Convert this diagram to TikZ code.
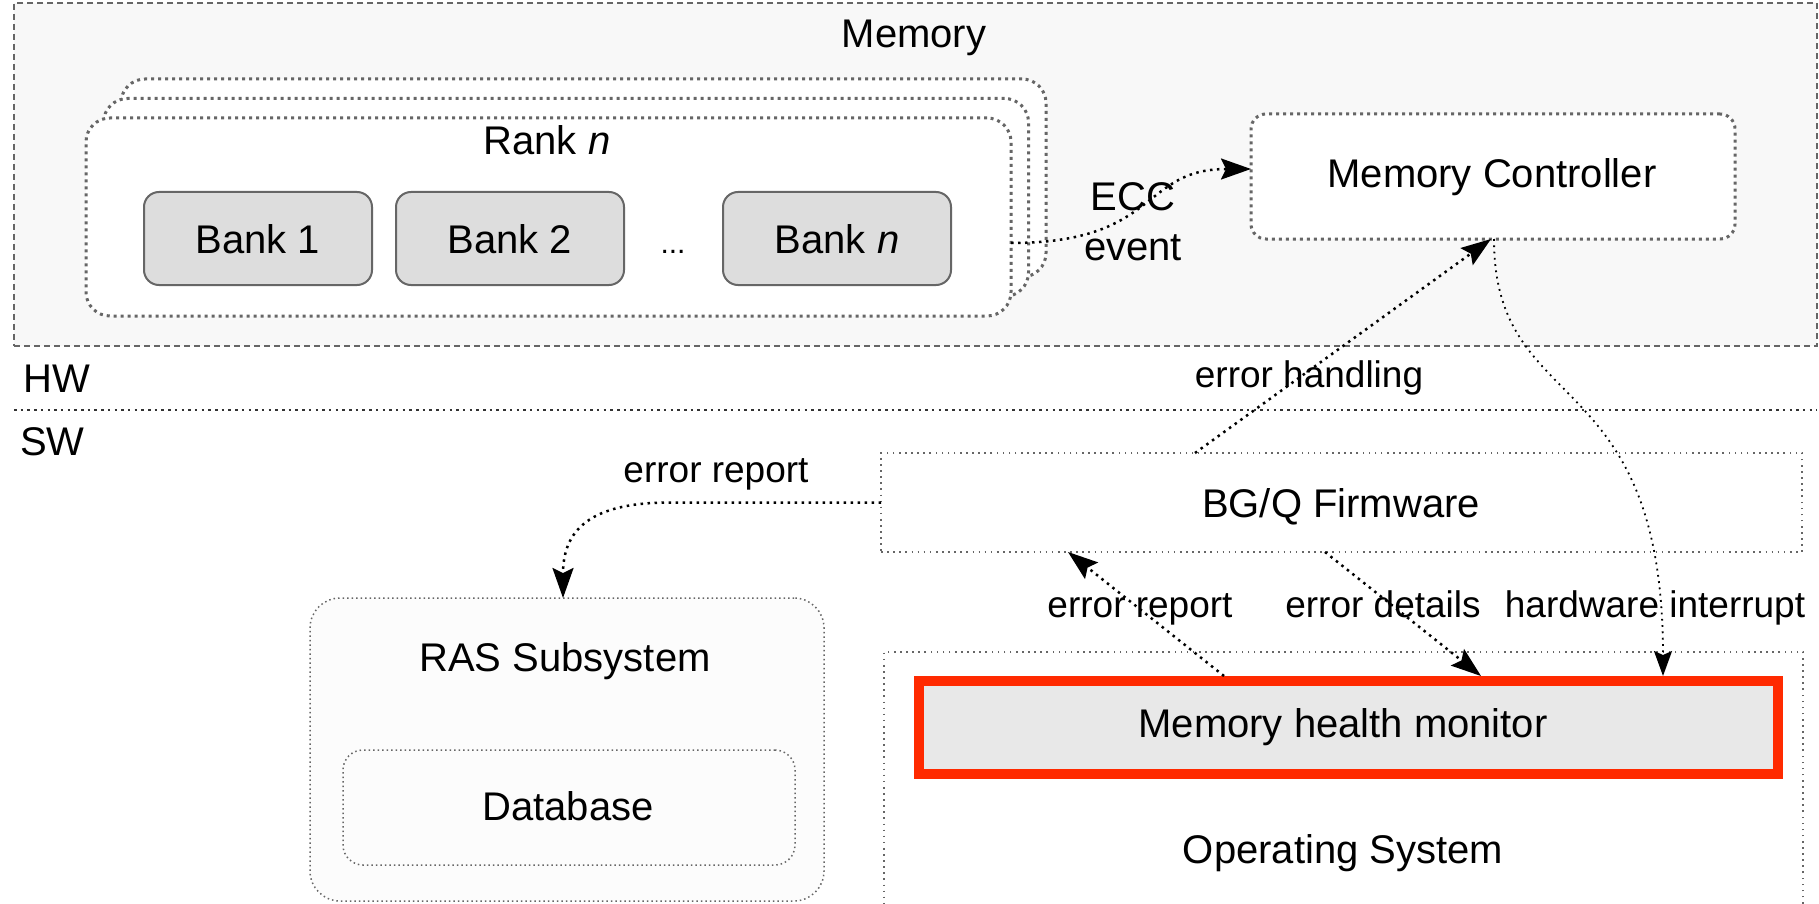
\documentclass[tikz,border=0pt]{standalone}
\usepackage{fontspec}
\setmainfont{Liberation Sans}
\usetikzlibrary{arrows.meta,shadows}
\definecolor{memfill}{HTML}{F8F8F8}
\definecolor{bdr}{HTML}{666666}
\definecolor{bankfill}{HTML}{DDDDDD}
\definecolor{mhmred}{HTML}{FF2A00}
\definecolor{mhmfill}{HTML}{E8E8E8}
\definecolor{rasfill}{HTML}{FCFCFC}
\definecolor{sepcol}{HTML}{333333}
\begin{document}
\begin{tikzpicture}[x=1pt,y=-1pt,
  box/.style={rectangle, inner sep=0pt, outer sep=0pt},
  membox/.style={box, draw=bdr, line width=2pt, dash pattern=on 6pt off 4pt, fill=memfill},
  rankbox/.style={box, draw=bdr, line width=3pt, dash pattern=on 3pt off 4pt, fill=white, rounded corners=24pt, minimum width=925pt, minimum height=198pt},
  bankbox/.style={box, draw=bdr, line width=2pt, fill=bankfill, rounded corners=15pt, minimum width=228pt, minimum height=93pt},
  mcbox/.style={box, draw=bdr, line width=3pt, dash pattern=on 3pt off 4pt, fill=white, rounded corners=15pt},
  thinbox/.style={box, draw=bdr, line width=1.6pt, dash pattern=on 1.6pt off 4.5pt, fill=white},
  rasbox/.style={box, draw=bdr, line width=1.5pt, dash pattern=on 1.5pt off 3pt, fill=rasfill},
  big/.style={inner sep=0pt, anchor=base, font=\fontsize{40}{48}\selectfont},
  lab/.style={inner sep=0pt, anchor=base, font=\fontsize{37}{44}\selectfont},
  arr/.style={draw=black, line width=2.5pt, dash pattern=on 2.5pt off 4.5pt, -{Stealth[length=30pt,width=21pt,inset=5pt]}},
  thinarr/.style={draw=black, line width=1.8pt, dash pattern=on 1.8pt off 4.5pt, -{Stealth[length=25pt,width=18pt,inset=4pt]}},
  sepline/.style={draw=sepcol, line width=2.5pt, dash pattern=on 2.5pt off 4.2pt},
]
\useasboundingbox (0,0) rectangle (1819,904);

% Memory (HW) area
\node[membox, minimum width=1803pt, minimum height=343pt] (memory) at (915.5,174.5) {};
\node[big] (memorytitle) at (914,48) {Memory};

% Rank stack
\node[rankbox] (rank3) at (583.5,178) {};
\node[rankbox] (rank2) at (566,197.5) {};
\node[rankbox] (rank1) at (548.5,217) {};
\node[big] (ranktitle) at (547,155) {Rank \textit{n}};

% Banks
\node[bankbox] (bank1) at (258,238.5) {};
\node[bankbox] (bank2) at (510,238.5) {};
\node[bankbox] (bankn) at (837,238.5) {};
\node[big] (bank1t) at (258,253) {Bank 1};
\node[big] (bank2t) at (510,253) {Bank 2};
\node[big] (bankntt) at (837,253) {Bank \textit{n}};
\node[inner sep=0pt, anchor=base, font=\fontsize{30}{36}\selectfont] (bankdots) at (673,253) {...};

% Memory controller
\node[mcbox, minimum width=484pt, minimum height=125pt] (mc) at (1493,176.5) {};
\node[big] (mct) at (1492,187) {Memory Controller};

% HW / SW separator
\coordinate (sepL) at (14,410);
\coordinate (sepR) at (1817,410);
\draw[sepline] (sepL) -- (sepR);
\node[big, anchor=base west] (hw) at (23,392) {HW};
\node[big, anchor=base west] (sw) at (20,455) {SW};

% Firmware
\node[thinbox, minimum width=921pt, minimum height=99pt] (firmware) at (1341.5,502.5) {};
\node[big] (firmwaret) at (1341,517) {BG/Q Firmware};

% Operating system
\node[thinbox, minimum width=919pt, minimum height=278pt] (os) at (1343.5,791) {};
\node[big] (ost) at (1343,863) {Operating System};

% Memory health monitor
\node[box, draw=mhmred, line width=10pt, fill=mhmfill, outer sep=5pt,
      minimum width=859pt, minimum height=93pt,
      drop shadow={shadow xshift=3pt, shadow yshift=-3pt, opacity=0.3}] (mhm) at (1348.5,727.5) {};
\node[big] (mhmt) at (1343,737) {Memory health monitor};

% RAS subsystem
\node[rasbox, rounded corners=30pt, minimum width=514pt, minimum height=303pt] (ras) at (567,749.5) {};
\node[big] (rast) at (565,671) {RAS Subsystem};
\node[rasbox, rounded corners=20pt, minimum width=452pt, minimum height=115pt] (db) at (569,807.5) {};
\node[big] (dbt) at (568,820) {Database};

% Connectors
\draw[arr] ([yshift=-26pt]rank1.east) .. controls +(149,0) and +(-111,0) .. ([yshift=7.5pt]mc.west);
\draw[arr] ([xshift=-146.5pt]firmware.north) -- ([xshift=-2pt]mc.south);
\draw[thinarr] ([xshift=1pt]mc.south) .. controls +(0,180) and +(0,-316) .. ([xshift=314.5pt]mhm.north);
\draw[arr] (firmware.west) -- ++(-211,0) .. controls +(-80,0) and +(0,-68) .. ([xshift=-4pt]ras.north);
\draw[arr] ([xshift=-124.5pt]mhm.north) -- ([xshift=-273.5pt]firmware.south);
\draw[arr] ([xshift=-16.5pt]firmware.south) -- ([xshift=132.5pt]mhm.north);

% Connector labels
\node[big] (ecc) at (1133,210) {ECC};
\node[big] (event) at (1133,260) {event};
\node[lab] (errhand) at (1309,387) {error handling};
\node[lab] (errrep1) at (716,482) {error report};
\node[lab] (errrep2) at (1140,617) {error report};
\node[lab] (errdet) at (1383,617) {error details};
\node[lab] (hwint) at (1655,617) {hardware interrupt};
\end{tikzpicture}
\end{document}
